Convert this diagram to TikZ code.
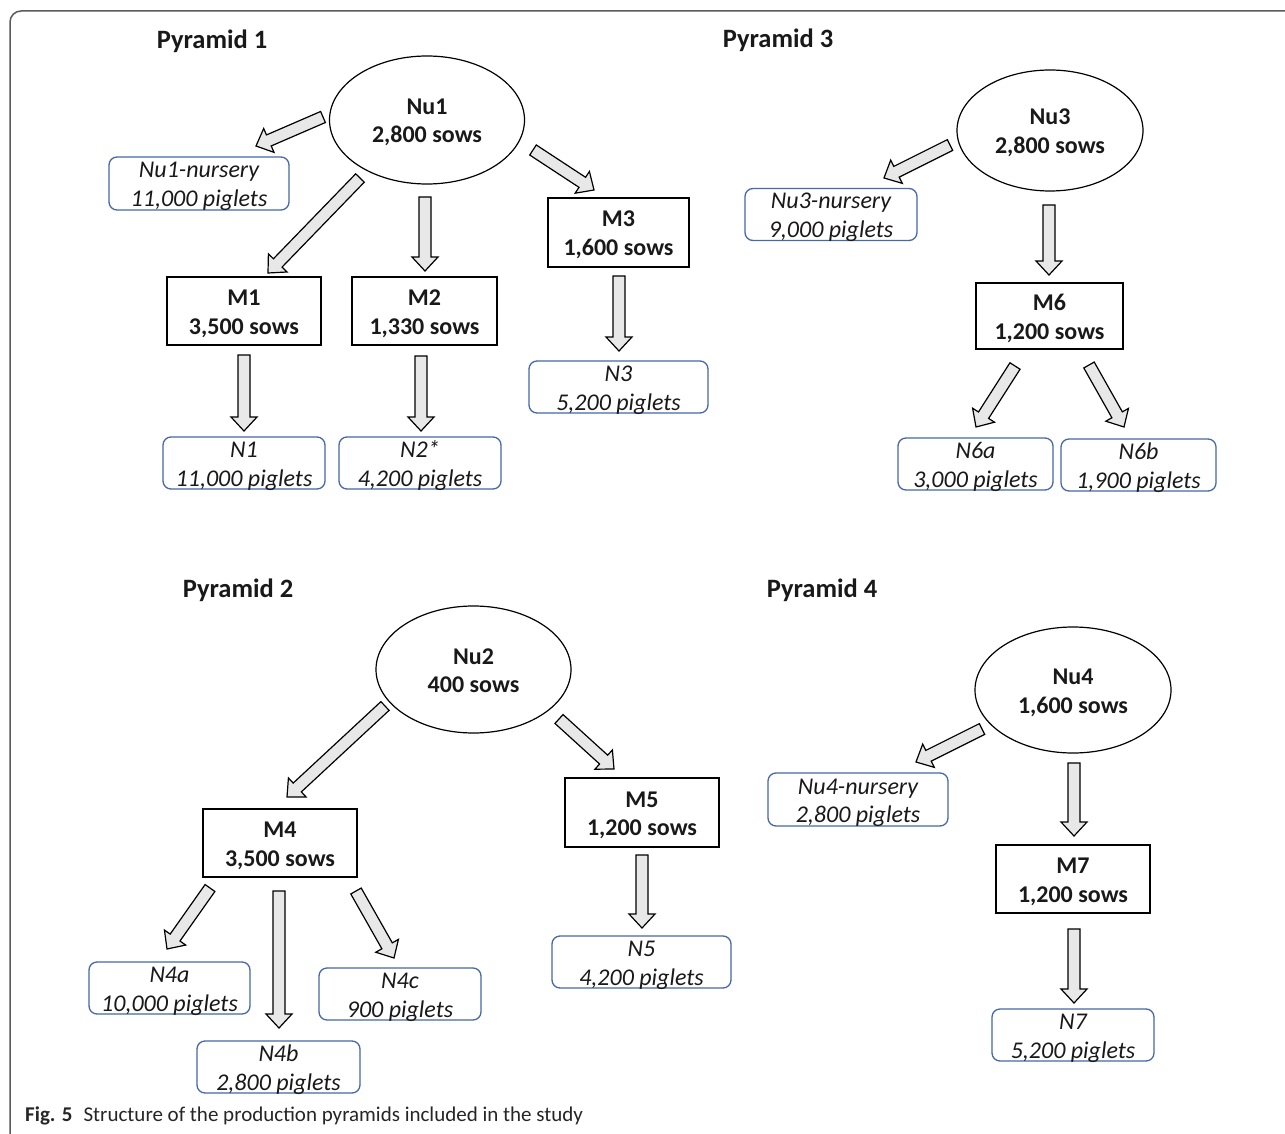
\documentclass[tikz,border=0pt]{standalone}
\usepackage{fontspec}
\setmainfont{Carlito}
\usetikzlibrary{calc,shapes.geometric}
\definecolor{boxblue}{RGB}{72,104,164}
\definecolor{arrowfill}{RGB}{232,232,232}
\definecolor{framegray}{RGB}{90,90,90}
\definecolor{txt}{RGB}{25,25,25}
\tikzset{
  twoline/.style={text height=49pt, text depth=3pt},
  ell/.style={ellipse, draw, line width=1.2pt, inner sep=0pt, align=center, twoline,
    font=\fontsize{24}{28.5}\selectfont\bfseries, text=txt},
  mbox/.style={rectangle, draw, line width=1.4pt, inner sep=0pt, align=center, twoline,
    font=\fontsize{24}{28.5}\selectfont\bfseries, text=txt, minimum height=68pt},
  nbox/.style={rectangle, rounded corners=8pt, draw=boxblue, line width=1.3pt, inner sep=0pt,
    align=center, twoline, font=\fontsize{24}{28.5}\selectfont\itshape, text=txt, minimum height=52pt},
  ptitle/.style={font=\fontsize{26.5}{30}\selectfont\bfseries, text=txt, inner sep=0pt},
  blockarrow/.style={draw=black, fill=arrowfill, line width=1.2pt, line join=miter},
}
\newcommand\barrow[2]{%
  \path ($(#2)!14pt!(#1)$) coordinate (bh);
  \draw[blockarrow] ($(#1)!6pt!90:(#2)$) -- ($(bh)!6pt!-90:(#1)$) -- ($(bh)!13pt!-90:(#1)$)
    -- (#2) -- ($(bh)!13pt!90:(#1)$) -- ($(bh)!6pt!90:(#1)$) -- ($(#1)!6pt!-90:(#2)$) -- cycle;}
\begin{document}
\begin{tikzpicture}[x=1pt,y=-1pt]
\useasboundingbox (0,0) rectangle (1285,1134);
\fill[white] (0,0) rectangle (1285,1134);
\draw[framegray, line width=1.5pt, rounded corners=11pt] (10,1140) -- (10,11) -- (1290,11);

% titles
\node[ptitle] (t1) at (212,41) {Pyramid 1};
\node[ptitle] (t3) at (778,40) {Pyramid 3};
\node[ptitle] (t2) at (238,590) {Pyramid 2};
\node[ptitle] (t4) at (822,590) {Pyramid 4};

% Pyramid 1
\node[ell, minimum width=195pt, minimum height=128pt] (Nu1) at (427,120) {Nu1\\2,800 sows};
\node[nbox, minimum width=180pt, minimum height=53pt] (nurs1) at (199,183.5) {Nu1-nursery\\11,000 piglets};
\node[mbox, minimum width=154pt] (M1) at (244,311) {M1\\3,500 sows};
\node[mbox, minimum width=145pt] (M2) at (424.5,311) {M2\\1,330 sows};
\node[mbox, minimum width=141pt, minimum height=69pt] (M3) at (618.5,232.5) {M3\\1,600 sows};
\node[nbox, minimum width=162pt] (N1) at (244,463) {N1\\11,000 piglets};
\node[nbox, minimum width=162pt] (N2) at (420,463) {N2*\\4,200 piglets};
\node[nbox, minimum width=179pt] (N3) at (618.5,387) {N3\\5,200 piglets};

\coordinate (a1s) at (323,117); \coordinate (a1e) at (256,146);
\coordinate (a2s) at (360,178); \coordinate (a2e) at (268,273);
\coordinate (a3s) at (425,197); \coordinate (a3e) at (425,271);
\coordinate (a4s) at (533,150); \coordinate (a4e) at (594,190);
\coordinate (a5s) at (244,355); \coordinate (a5e) at (244,431);
\coordinate (a6s) at (421,356); \coordinate (a6e) at (421,431);
\coordinate (a7s) at (619,276); \coordinate (a7e) at (619,351);
\barrow{a1s}{a1e}\barrow{a2s}{a2e}\barrow{a3s}{a3e}\barrow{a4s}{a4e}
\barrow{a5s}{a5e}\barrow{a6s}{a6e}\barrow{a7s}{a7e}

% Pyramid 3
\node[ell, minimum width=186pt, minimum height=121pt] (Nu3) at (1050,130.5) {Nu3\\2,800 sows};
\node[nbox, minimum width=172pt, minimum height=51pt] (nurs3) at (831,214.5) {Nu3-nursery\\9,000 piglets};
\node[mbox, minimum width=147pt, minimum height=66pt] (M6) at (1049.5,316) {M6\\1,200 sows};
\node[nbox, minimum width=155pt, minimum height=50pt] (N6a) at (975.5,464) {N6a\\3,000 piglets};
\node[nbox, minimum width=155pt, minimum height=50pt] (N6b) at (1138.5,465) {N6b\\1,900 piglets};

\coordinate (b1s) at (950,145); \coordinate (b1e) at (884,178);
\coordinate (b2s) at (1049,205); \coordinate (b2e) at (1049,275);
\coordinate (b3s) at (1015,366); \coordinate (b3e) at (976,427);
\coordinate (b4s) at (1089,365); \coordinate (b4e) at (1124,427);
\barrow{b1s}{b1e}\barrow{b2s}{b2e}\barrow{b3s}{b3e}\barrow{b4s}{b4e}

% Pyramid 2
\node[ell, minimum width=195pt, minimum height=127pt] (Nu2) at (473.5,669.5) {Nu2\\400 sows};
\node[mbox, minimum width=154pt] (M4) at (280,843) {M4\\3,500 sows};
\node[mbox, minimum width=154pt, minimum height=69pt] (M5) at (642,812.5) {M5\\1,200 sows};
\node[nbox, minimum width=161pt] (N4a) at (169.5,988) {N4a\\10,000 piglets};
\node[nbox, minimum width=163pt] (N4b) at (278.5,1067) {N4b\\2,800 piglets};
\node[nbox, minimum width=162pt] (N4c) at (400,994) {N4c\\900 piglets};
\node[nbox, minimum width=179pt] (N5) at (641.5,962) {N5\\4,200 piglets};

\coordinate (c1s) at (385,706); \coordinate (c1e) at (287,797);
\coordinate (c2s) at (559,719); \coordinate (c2e) at (614,769);
\coordinate (c3s) at (210,888); \coordinate (c3e) at (167,949);
\coordinate (c4s) at (279,891); \coordinate (c4e) at (279,1028);
\coordinate (c5s) at (356,891); \coordinate (c5e) at (394,958);
\coordinate (c6s) at (642,855); \coordinate (c6e) at (642,928);
\barrow{c1s}{c1e}\barrow{c2s}{c2e}\barrow{c3s}{c3e}
\barrow{c4s}{c4e}\barrow{c5s}{c5e}\barrow{c6s}{c6e}

% Pyramid 4
\node[ell, minimum width=196pt, minimum height=126pt] (Nu4) at (1073,690) {Nu4\\1,600 sows};
\node[nbox, minimum width=180pt, minimum height=53pt] (nurs4) at (858,799.5) {Nu4-nursery\\2,800 piglets};
\node[mbox, minimum width=154pt] (M7) at (1073,879) {M7\\1,200 sows};
\node[nbox, minimum width=162pt] (N7) at (1073,1035) {N7\\5,200 piglets};

\coordinate (d1s) at (982,729); \coordinate (d1e) at (916,762);
\coordinate (d2s) at (1074,763); \coordinate (d2e) at (1074,836);
\coordinate (d3s) at (1074,929); \coordinate (d3e) at (1074,1003);
\barrow{d1s}{d1e}\barrow{d2s}{d2e}\barrow{d3s}{d3e}

% caption
\node[anchor=west, inner sep=0pt, font=\fontsize{21}{24}\selectfont, text=black!85] (cap) at (25,1116)
  {\textbf{Fig. 5}\hspace{11pt}Structure of the production pyramids included in the study};
\end{tikzpicture}
\end{document}
